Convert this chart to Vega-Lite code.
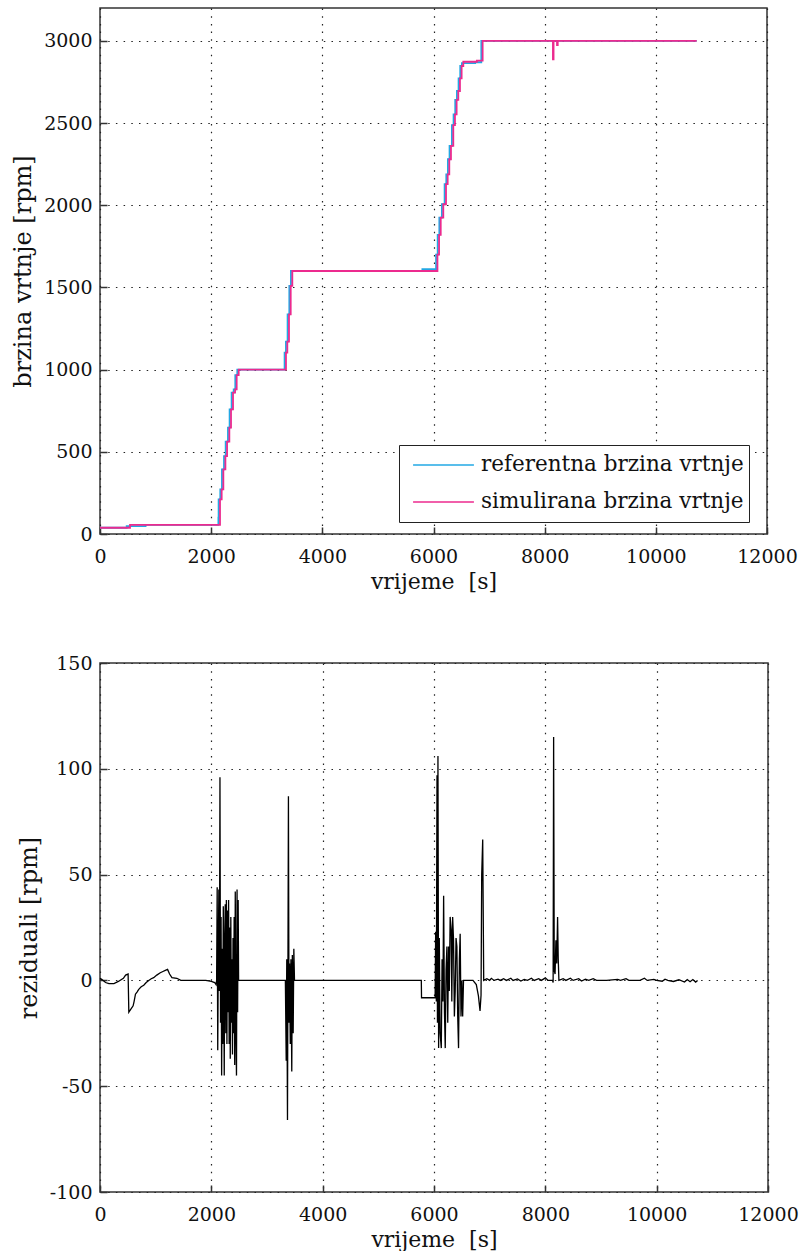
{
  "$schema": "https://vega.github.io/schema/vega-lite/v6.json",
  "padding": {"left": 10, "top": 7, "right": 0, "bottom": 0},
  "background": "white",
  "spacing": 129,
  "bounds": "flush",
  "config": {
    "font": "DejaVu Serif",
    "view": {"stroke": "#333", "strokeWidth": 1.5},
    "axis": {
      "labelFont": "DejaVu Serif", "labelFontSize": 19, "labelColor": "#111",
      "titleFont": "DejaVu Serif", "titleFontSize": 22, "titleFontWeight": "normal", "titleColor": "#111",
      "grid": true, "gridDash": [1.5, 6.2], "gridColor": "#222", "gridWidth": 1.2,
      "domain": false, "tickSize": -7, "tickColor": "#333", "tickWidth": 1.5,
      "labelPadding": 15, "labelFlush": false, "titlePadding": 8,
      "labelExpr": "'' + datum.value"
    },
    "axisX": {"labelPadding": 20, "titlePadding": 5},
    "axisY": {"titleFontSize": 24}
  },
  "vconcat": [
    {
      "width": 667, "height": 526,
      "data": {"values": [
        {"t": 0, "rpm": 38, "series": "referentna brzina vrtnje"},
        {"t": 480, "rpm": 48, "series": "referentna brzina vrtnje"},
        {"t": 820, "rpm": 55, "series": "referentna brzina vrtnje"},
        {"t": 2130, "rpm": 100, "series": "referentna brzina vrtnje"},
        {"t": 2134, "rpm": 211, "series": "referentna brzina vrtnje"},
        {"t": 2164, "rpm": 272, "series": "referentna brzina vrtnje"},
        {"t": 2194, "rpm": 393, "series": "referentna brzina vrtnje"},
        {"t": 2231, "rpm": 474, "series": "referentna brzina vrtnje"},
        {"t": 2261, "rpm": 562, "series": "referentna brzina vrtnje"},
        {"t": 2302, "rpm": 647, "series": "referentna brzina vrtnje"},
        {"t": 2332, "rpm": 758, "series": "referentna brzina vrtnje"},
        {"t": 2368, "rpm": 860, "series": "referentna brzina vrtnje"},
        {"t": 2405, "rpm": 880, "series": "referentna brzina vrtnje"},
        {"t": 2434, "rpm": 967, "series": "referentna brzina vrtnje"},
        {"t": 2470, "rpm": 1000, "series": "referentna brzina vrtnje"},
        {"t": 3321, "rpm": 1103, "series": "referentna brzina vrtnje"},
        {"t": 3345, "rpm": 1170, "series": "referentna brzina vrtnje"},
        {"t": 3375, "rpm": 1336, "series": "referentna brzina vrtnje"},
        {"t": 3406, "rpm": 1509, "series": "referentna brzina vrtnje"},
        {"t": 3435, "rpm": 1600, "series": "referentna brzina vrtnje"},
        {"t": 5800, "rpm": 1612, "series": "referentna brzina vrtnje"},
        {"t": 6046, "rpm": 1700, "series": "referentna brzina vrtnje"},
        {"t": 6075, "rpm": 1820, "series": "referentna brzina vrtnje"},
        {"t": 6105, "rpm": 1925, "series": "referentna brzina vrtnje"},
        {"t": 6151, "rpm": 2006, "series": "referentna brzina vrtnje"},
        {"t": 6200, "rpm": 2128, "series": "referentna brzina vrtnje"},
        {"t": 6230, "rpm": 2188, "series": "referentna brzina vrtnje"},
        {"t": 6259, "rpm": 2280, "series": "referentna brzina vrtnje"},
        {"t": 6289, "rpm": 2361, "series": "referentna brzina vrtnje"},
        {"t": 6331, "rpm": 2488, "series": "referentna brzina vrtnje"},
        {"t": 6361, "rpm": 2553, "series": "referentna brzina vrtnje"},
        {"t": 6391, "rpm": 2641, "series": "referentna brzina vrtnje"},
        {"t": 6421, "rpm": 2695, "series": "referentna brzina vrtnje"},
        {"t": 6451, "rpm": 2772, "series": "referentna brzina vrtnje"},
        {"t": 6481, "rpm": 2847, "series": "referentna brzina vrtnje"},
        {"t": 6511, "rpm": 2865, "series": "referentna brzina vrtnje"},
        {"t": 6750, "rpm": 2870, "series": "referentna brzina vrtnje"},
        {"t": 6860, "rpm": 3000, "series": "referentna brzina vrtnje"},
        {"t": 10735, "rpm": 3000, "series": "referentna brzina vrtnje"},
        {"t": 0, "rpm": 38, "series": "simulirana brzina vrtnje"},
        {"t": 540, "rpm": 55, "series": "simulirana brzina vrtnje"},
        {"t": 2159, "rpm": 211, "series": "simulirana brzina vrtnje"},
        {"t": 2189, "rpm": 272, "series": "simulirana brzina vrtnje"},
        {"t": 2219, "rpm": 393, "series": "simulirana brzina vrtnje"},
        {"t": 2256, "rpm": 474, "series": "simulirana brzina vrtnje"},
        {"t": 2286, "rpm": 562, "series": "simulirana brzina vrtnje"},
        {"t": 2327, "rpm": 647, "series": "simulirana brzina vrtnje"},
        {"t": 2357, "rpm": 758, "series": "simulirana brzina vrtnje"},
        {"t": 2393, "rpm": 860, "series": "simulirana brzina vrtnje"},
        {"t": 2430, "rpm": 880, "series": "simulirana brzina vrtnje"},
        {"t": 2459, "rpm": 967, "series": "simulirana brzina vrtnje"},
        {"t": 2495, "rpm": 1000, "series": "simulirana brzina vrtnje"},
        {"t": 3346, "rpm": 1103, "series": "simulirana brzina vrtnje"},
        {"t": 3370, "rpm": 1170, "series": "simulirana brzina vrtnje"},
        {"t": 3400, "rpm": 1336, "series": "simulirana brzina vrtnje"},
        {"t": 3431, "rpm": 1509, "series": "simulirana brzina vrtnje"},
        {"t": 3460, "rpm": 1600, "series": "simulirana brzina vrtnje"},
        {"t": 6071, "rpm": 1700, "series": "simulirana brzina vrtnje"},
        {"t": 6100, "rpm": 1820, "series": "simulirana brzina vrtnje"},
        {"t": 6130, "rpm": 1925, "series": "simulirana brzina vrtnje"},
        {"t": 6176, "rpm": 2006, "series": "simulirana brzina vrtnje"},
        {"t": 6225, "rpm": 2128, "series": "simulirana brzina vrtnje"},
        {"t": 6255, "rpm": 2188, "series": "simulirana brzina vrtnje"},
        {"t": 6284, "rpm": 2280, "series": "simulirana brzina vrtnje"},
        {"t": 6314, "rpm": 2361, "series": "simulirana brzina vrtnje"},
        {"t": 6356, "rpm": 2488, "series": "simulirana brzina vrtnje"},
        {"t": 6386, "rpm": 2553, "series": "simulirana brzina vrtnje"},
        {"t": 6416, "rpm": 2641, "series": "simulirana brzina vrtnje"},
        {"t": 6446, "rpm": 2695, "series": "simulirana brzina vrtnje"},
        {"t": 6476, "rpm": 2772, "series": "simulirana brzina vrtnje"},
        {"t": 6506, "rpm": 2847, "series": "simulirana brzina vrtnje"},
        {"t": 6536, "rpm": 2873, "series": "simulirana brzina vrtnje"},
        {"t": 6780, "rpm": 2880, "series": "simulirana brzina vrtnje"},
        {"t": 6884, "rpm": 3000, "series": "simulirana brzina vrtnje"},
        {"t": 8149, "rpm": 2888, "series": "simulirana brzina vrtnje"},
        {"t": 8160, "rpm": 3000, "series": "simulirana brzina vrtnje"},
        {"t": 8222, "rpm": 2975, "series": "simulirana brzina vrtnje"},
        {"t": 8235, "rpm": 3000, "series": "simulirana brzina vrtnje"},
        {"t": 10735, "rpm": 3000, "series": "simulirana brzina vrtnje"}
      ]},
      "mark": {"type": "line", "interpolate": "step-after", "strokeWidth": 1.8},
      "encoding": {
        "x": {"field": "t", "type": "quantitative", "scale": {"domain": [0, 12000], "nice": false},
              "axis": {"values": [0, 2000, 4000, 6000, 8000, 10000, 12000], "title": "vrijeme\u00a0\u00a0[s]"}},
        "y": {"field": "rpm", "type": "quantitative", "scale": {"domain": [0, 3200], "nice": false},
              "axis": {"values": [0, 500, 1000, 1500, 2000, 2500, 3000], "title": "brzina vrtnje [rpm]"}},
        "color": {"field": "series", "type": "nominal", "sort": null,
                  "scale": {"domain": ["referentna brzina vrtnje", "simulirana brzina vrtnje"], "range": ["#22a8e4", "#ec2a8e"]},
                  "legend": {"orient": "none", "legendX": 299, "legendY": 437, "title": null,
                             "symbolType": "stroke", "symbolSize": 3700, "symbolStrokeWidth": 1.5, "symbolOffset": 8,
                             "labelFont": "DejaVu Serif", "labelFontSize": 21.5, "labelColor": "#111", "labelLimit": 400,
                             "clipHeight": 30, "rowPadding": 7,
                             "strokeColor": "#222", "fillColor": "white", "padding": 5, "labelOffset": 6}}
      }
    },
    {
      "width": 668, "height": 529,
      "data": {"values": [
        {"t": 0, "r": 1}, {"t": 30, "r": 0.5}, {"t": 100, "r": -1}, {"t": 160, "r": -1.5}, {"t": 250, "r": -1.5},
        {"t": 330, "r": -0.5}, {"t": 420, "r": 1}, {"t": 460, "r": 2.5}, {"t": 505, "r": 3}, {"t": 518, "r": -15},
        {"t": 595, "r": -12}, {"t": 612, "r": -10}, {"t": 637, "r": -6.5}, {"t": 665, "r": -5.5}, {"t": 696, "r": -4.2},
        {"t": 740, "r": -3}, {"t": 786, "r": -2.3}, {"t": 830, "r": -1}, {"t": 875, "r": 0}, {"t": 920, "r": 0.8},
        {"t": 964, "r": 1.3}, {"t": 1020, "r": 2.5}, {"t": 1083, "r": 3.6}, {"t": 1130, "r": 4.2}, {"t": 1173, "r": 4.7},
        {"t": 1214, "r": 5.2}, {"t": 1250, "r": 3}, {"t": 1292, "r": 1.3}, {"t": 1380, "r": 1}, {"t": 1452, "r": 0},
        {"t": 1900, "r": 0}, {"t": 2000, "r": -0.5}, {"t": 2060, "r": -1}, {"t": 2085, "r": -2}, {"t": 2095, "r": 0},
        {"t": 2105, "r": 44}, {"t": 2115, "r": -33}, {"t": 2125, "r": 10}, {"t": 2135, "r": 43}, {"t": 2145, "r": -5},
        {"t": 2155, "r": 96}, {"t": 2165, "r": -20}, {"t": 2175, "r": 30}, {"t": 2185, "r": -45}, {"t": 2195, "r": 15},
        {"t": 2205, "r": -30}, {"t": 2215, "r": 35}, {"t": 2225, "r": -10}, {"t": 2232, "r": -45}, {"t": 2240, "r": 20},
        {"t": 2250, "r": 36}, {"t": 2260, "r": -25}, {"t": 2270, "r": 38}, {"t": 2280, "r": -30}, {"t": 2290, "r": 33},
        {"t": 2300, "r": -15}, {"t": 2310, "r": 38}, {"t": 2320, "r": -30}, {"t": 2330, "r": 25}, {"t": 2340, "r": -37},
        {"t": 2350, "r": 30}, {"t": 2360, "r": -20}, {"t": 2370, "r": 10}, {"t": 2380, "r": -35}, {"t": 2390, "r": 20},
        {"t": 2400, "r": -25}, {"t": 2410, "r": 30}, {"t": 2420, "r": -40}, {"t": 2430, "r": 42}, {"t": 2440, "r": -20},
        {"t": 2452, "r": -45}, {"t": 2462, "r": 43}, {"t": 2472, "r": -15}, {"t": 2482, "r": 38}, {"t": 2490, "r": 0},
        {"t": 3330, "r": 0}, {"t": 3345, "r": -38}, {"t": 3355, "r": 10}, {"t": 3368, "r": -66}, {"t": 3385, "r": 87},
        {"t": 3395, "r": -20}, {"t": 3405, "r": 8}, {"t": 3418, "r": -30}, {"t": 3430, "r": 10}, {"t": 3445, "r": -43},
        {"t": 3455, "r": 12}, {"t": 3470, "r": -25}, {"t": 3482, "r": 15}, {"t": 3494, "r": 0},
        {"t": 5772, "r": 0}, {"t": 5776, "r": -8.2}, {"t": 6020, "r": -8.2}, {"t": 6030, "r": 23}, {"t": 6042, "r": -10},
        {"t": 6054, "r": 97}, {"t": 6062, "r": -20}, {"t": 6071, "r": 106}, {"t": 6083, "r": -32}, {"t": 6095, "r": 20},
        {"t": 6110, "r": -25}, {"t": 6131, "r": -32}, {"t": 6145, "r": 10}, {"t": 6160, "r": -10}, {"t": 6173, "r": 40},
        {"t": 6188, "r": -15}, {"t": 6202, "r": -32}, {"t": 6217, "r": 5}, {"t": 6232, "r": 16}, {"t": 6247, "r": -20},
        {"t": 6262, "r": 16}, {"t": 6275, "r": -5}, {"t": 6290, "r": 30}, {"t": 6309, "r": 24}, {"t": 6320, "r": -10},
        {"t": 6335, "r": 30}, {"t": 6351, "r": 19}, {"t": 6366, "r": -17}, {"t": 6381, "r": -5}, {"t": 6396, "r": 20},
        {"t": 6411, "r": 16}, {"t": 6426, "r": -17}, {"t": 6441, "r": -32}, {"t": 6456, "r": 10}, {"t": 6470, "r": 22},
        {"t": 6485, "r": -17}, {"t": 6500, "r": 0}, {"t": 6515, "r": -17}, {"t": 6530, "r": 0}, {"t": 6700, "r": 0},
        {"t": 6760, "r": -2}, {"t": 6798, "r": -7.3}, {"t": 6827, "r": -14.4}, {"t": 6845, "r": -7}, {"t": 6857, "r": 50},
        {"t": 6875, "r": 66.6}, {"t": 6893, "r": 0},
        {"t": 6950, "r": 0.8}, {"t": 7000, "r": 0}, {"t": 7030, "r": 1}, {"t": 7080, "r": 0}, {"t": 7150, "r": 0.6},
        {"t": 7190, "r": 0}, {"t": 7250, "r": 0.8}, {"t": 7300, "r": 0}, {"t": 7380, "r": 1}, {"t": 7420, "r": 0},
        {"t": 7500, "r": 0.7}, {"t": 7560, "r": -0.3}, {"t": 7620, "r": 0.5}, {"t": 7680, "r": 0}, {"t": 7750, "r": 1},
        {"t": 7800, "r": 0}, {"t": 7880, "r": 0.8}, {"t": 7930, "r": 0}, {"t": 8000, "r": 1.2}, {"t": 8050, "r": 0},
        {"t": 8130, "r": 0}, {"t": 8140, "r": -1}, {"t": 8149, "r": 115}, {"t": 8160, "r": 5}, {"t": 8175, "r": 3},
        {"t": 8190, "r": 19}, {"t": 8205, "r": 8}, {"t": 8220, "r": 30}, {"t": 8232, "r": 10}, {"t": 8244, "r": 0},
        {"t": 8320, "r": 0.8}, {"t": 8370, "r": 0}, {"t": 8450, "r": 1}, {"t": 8500, "r": 0}, {"t": 8600, "r": 0.8},
        {"t": 8650, "r": -0.3}, {"t": 8720, "r": 0.6}, {"t": 8780, "r": 0}, {"t": 8860, "r": 0.8}, {"t": 8920, "r": 0},
        {"t": 9100, "r": 0}, {"t": 9300, "r": 0.5}, {"t": 9350, "r": 0}, {"t": 9450, "r": 0.8}, {"t": 9500, "r": 0},
        {"t": 9700, "r": 0}, {"t": 9780, "r": 1}, {"t": 9830, "r": 0}, {"t": 9950, "r": 0.5}, {"t": 10000, "r": 0},
        {"t": 10100, "r": -0.4}, {"t": 10150, "r": 0.6}, {"t": 10200, "r": 0}, {"t": 10300, "r": -0.5}, {"t": 10400, "r": 0.3},
        {"t": 10500, "r": -0.8}, {"t": 10550, "r": 0.4}, {"t": 10600, "r": -0.6}, {"t": 10650, "r": 0.4}, {"t": 10700, "r": -0.8},
        {"t": 10735, "r": 0}
      ]},
      "mark": {"type": "line", "color": "#000", "strokeWidth": 1.3},
      "encoding": {
        "x": {"field": "t", "type": "quantitative", "scale": {"domain": [0, 12000], "nice": false},
              "axis": {"values": [0, 2000, 4000, 6000, 8000, 10000, 12000], "title": "vrijeme\u00a0\u00a0[s]"}},
        "y": {"field": "r", "type": "quantitative", "scale": {"domain": [-100, 150], "nice": false},
              "axis": {"values": [-100, -50, 0, 50, 100, 150], "title": "reziduali [rpm]"}}
      }
    }
  ]
}
